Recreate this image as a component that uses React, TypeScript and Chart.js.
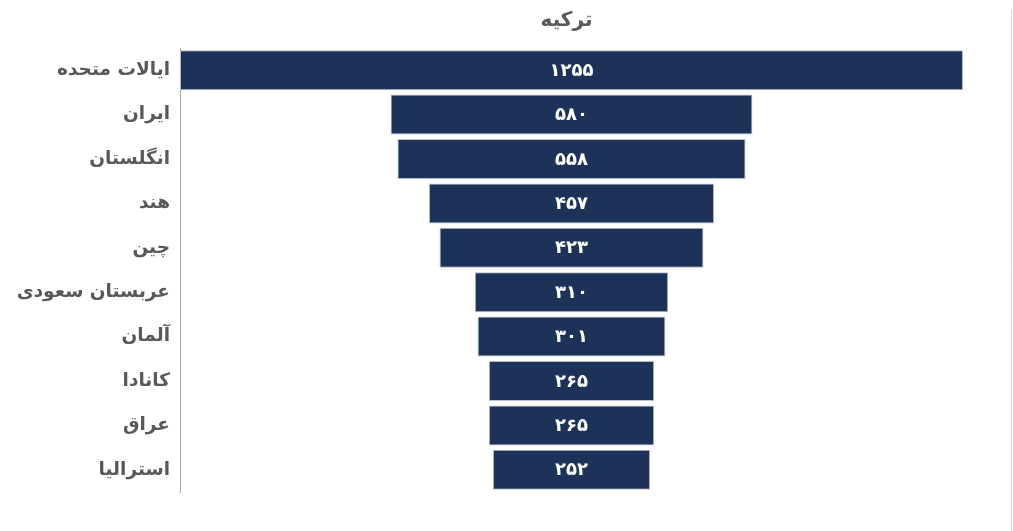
import React, { useEffect, useRef } from "react";
import { Chart, registerables } from "chart.js";

Chart.register(...registerables);

const title = "ترکیه";
const countries = [
  "ایالات متحده",
  "ایران",
  "انگلستان",
  "هند",
  "چین",
  "عربستان سعودی",
  "آلمان",
  "کانادا",
  "عراق",
  "استرالیا",
];
const values = [1255, 580, 558, 457, 423, 310, 301, 265, 265, 252];

const FONT = "'DejaVu Sans', 'Noto Sans', sans-serif";

function faDigits(n: number) {
  const d = "۰۱۲۳۴۵۶۷۸۹";
  return String(n).replace(/[0-9]/g, (c) => d[+c]);
}

const decorPlugin = {
  id: "decor",
  afterDatasetsDraw(chart: any) {
    const ctx = chart.ctx;
    const area = chart.chartArea;
    ctx.save();
    // value labels in the middle of each bar
    const meta = chart.getDatasetMeta(0);
    ctx.fillStyle = "#ffffff";
    ctx.font = `bold 18px ${FONT}`;
    ctx.textAlign = "center";
    ctx.textBaseline = "middle";
    meta.data.forEach((bar: any, i: number) => {
      const cx = (bar.x + bar.base) / 2;
      ctx.fillText(faDigits(values[i]), cx, bar.y + 1);
    });
    // title centred over the plot
    ctx.fillStyle = "#595959";
    ctx.font = `bold 20px ${FONT}`;
    ctx.fillText(title, (area.left + area.right) / 2 - 5, 21);
    // frame line on the right
    ctx.strokeStyle = "#d9d9d9";
    ctx.lineWidth = 1;
    ctx.beginPath();
    ctx.moveTo(1011.5, 10);
    ctx.lineTo(1011.5, chart.height);
    ctx.stroke();
    ctx.restore();
  },
};

export default function App() {
  const canvasRef = useRef<HTMLCanvasElement | null>(null);

  useEffect(() => {
    if (!canvasRef.current) return;
    const half = values[0] / 2;
    const chart = new Chart(canvasRef.current, {
      type: "bar",
      data: {
        labels: countries,
        datasets: [
          {
            data: values.map((v) => [-v / 2, v / 2]) as any,
            backgroundColor: "#1c3259",
            borderColor: "#b8bcc4",
            borderWidth: 1,
            borderSkipped: false,
            barPercentage: 0.9,
            categoryPercentage: 1,
          },
        ],
      },
      options: {
        indexAxis: "y",
        animation: false,
        responsive: true,
        maintainAspectRatio: false,
        layout: { padding: { top: 48, bottom: 39, right: 50, left: 0 } },
        plugins: {
          legend: { display: false },
          title: { display: false },
          tooltip: { enabled: false },
        },
        scales: {
          x: {
            type: "linear",
            min: -half,
            max: half,
            display: false,
          },
          y: {
            grid: { display: false, drawTicks: false },
            border: { display: true, color: "#a6a6a6", width: 1 },
            ticks: {
              color: "#595959",
              padding: 10,
              font: { family: FONT, size: 18.5, weight: "bold" },
            },
            afterFit: (scale: any) => {
              scale.width = 180;
            },
          },
        },
      },
      plugins: [decorPlugin],
    });
    return () => chart.destroy();
  }, []);

  return (
    <div
      style={{
        position: "fixed",
        left: 0,
        top: 0,
        width: 1013,
        height: 531,
        background: "#ffffff",
      }}
    >
      <canvas ref={canvasRef} />
    </div>
  );
}
